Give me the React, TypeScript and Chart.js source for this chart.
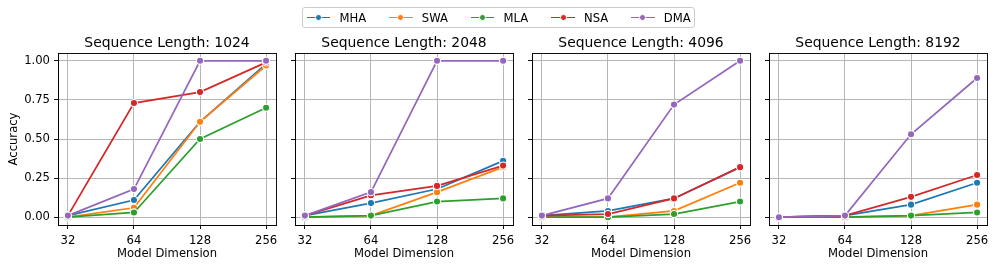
import React, { useEffect, useRef } from "react";
import { Chart, registerables } from "chart.js";

Chart.register(...registerables);

const dims = ["32", "64", "128", "256"];
const seqTitles = [
  "Sequence Length: 1024",
  "Sequence Length: 2048",
  "Sequence Length: 4096",
  "Sequence Length: 8192",
];
const methods = ["MHA", "SWA", "MLA", "NSA", "DMA"];
const colors = ["#1f77b4", "#ff7f0e", "#2ca02c", "#d62728", "#9467bd"];

// values per panel (seq 1024, 2048, 4096, 8192), each over dims
const mha = [
  [0.01, 0.11, 0.61, 0.98],
  [0.01, 0.09, 0.18, 0.36],
  [0.01, 0.04, 0.12, 0.32],
  [0.0, 0.01, 0.08, 0.22],
];
const swa = [
  [0.0, 0.06, 0.61, 0.97],
  [0.0, 0.01, 0.16, 0.32],
  [0.0, 0.0, 0.04, 0.22],
  [0.0, 0.0, 0.01, 0.08],
];
const mla = [
  [0.0, 0.03, 0.5, 0.7],
  [0.0, 0.01, 0.1, 0.12],
  [0.0, 0.0, 0.02, 0.1],
  [0.0, 0.0, 0.01, 0.03],
];
const nsa = [
  [0.01, 0.73, 0.8, 0.99],
  [0.01, 0.14, 0.2, 0.33],
  [0.01, 0.02, 0.12, 0.32],
  [0.0, 0.01, 0.13, 0.27],
];
const dma = [
  [0.01, 0.18, 1.0, 1.0],
  [0.01, 0.16, 1.0, 1.0],
  [0.01, 0.12, 0.72, 1.0],
  [0.0, 0.01, 0.53, 0.89],
];
const seriesByMethod = [mha, swa, mla, nsa, dma];
const yTicks = [0, 0.25, 0.5, 0.75, 1.0];

const W = 996;
const H = 269;
const FONT = "'DejaVu Sans', sans-serif";
const PANEL_LEFT = [58, 295, 532, 769];
const PANEL_WIDTH = 218;
const TOP = 53;
const BOTTOM = 225;

function Panel({ idx }: { idx: number }) {
  const ref = useRef<HTMLCanvasElement>(null);
  useEffect(() => {
    const canvas = ref.current!;
    const yAxisW = idx === 0 ? 58 : 8;
    const padLeft = PANEL_LEFT[idx] - yAxisW;
    const padRight = W - (PANEL_LEFT[idx] + PANEL_WIDTH);
    const framePlugin = {
      id: "frame" + idx,
      afterDraw(chart: any) {
        const { ctx, chartArea } = chart;
        ctx.save();
        ctx.strokeStyle = "#000";
        ctx.lineWidth = 0.93;
        ctx.strokeRect(
          Math.round(chartArea.left) + 0.5,
          Math.round(chartArea.top) + 0.5,
          Math.round(chartArea.right - chartArea.left),
          Math.round(chartArea.bottom - chartArea.top)
        );
        ctx.fillStyle = "#000";
        ctx.font = `13.9px ${FONT}`;
        ctx.textAlign = "center";
        ctx.textBaseline = "middle";
        ctx.fillText(seqTitles[idx], (chartArea.left + chartArea.right) / 2, 43.5);
        ctx.restore();
      },
    };
    const chart = new Chart(canvas, {
      type: "line",
      data: {
        datasets: methods.map((m, mi) => ({
          label: m,
          data: seriesByMethod[mi][idx].map((v, i) => ({ x: i, y: v })),
          borderColor: colors[mi],
          backgroundColor: colors[mi],
          pointBackgroundColor: colors[mi],
          pointBorderColor: "#ffffff",
          pointBorderWidth: 1.1,
          pointRadius: 3.6,
          borderWidth: 1.75,
          tension: 0,
          order: methods.length - mi,
        })),
      },
      options: {
        animation: false,
        responsive: false,
        devicePixelRatio: 1,
        parsing: false as any,
        layout: { padding: { left: padLeft, right: padRight, top: TOP, bottom: 0 } },
        plugins: {
          legend: { display: false },
          tooltip: { enabled: false },
          title: { display: false },
        },
        scales: {
          x: {
            type: "linear",
            min: -0.15,
            max: 3.15,
            afterBuildTicks: (s: any) => {
              s.ticks = dims.map((_, i) => ({ value: i }));
            },
            afterFit: (s: any) => {
              s.height = H - BOTTOM;
            },
            ticks: {
              callback: (v: any) => dims[v as number] ?? "",
              color: "#000",
              font: { family: FONT, size: 11.6 },
              padding: 5,
              maxRotation: 0,
              autoSkip: false,
            },
            grid: {
              color: "#b0b0b0",
              lineWidth: 0.93,
              tickLength: 4,
              tickColor: "#000",
              tickWidth: 0.93,
            },
            border: { display: true, color: "#000", width: 0.93 },
            title: {
              display: true,
              text: "Model Dimension",
              color: "#000",
              font: { family: FONT, size: 11.6 },
              padding: { top: 0, bottom: 8 },
            },
          },
          y: {
            type: "linear",
            min: -0.05,
            max: 1.05,
            afterBuildTicks: (s: any) => {
              s.ticks = yTicks.map((v) => ({ value: v }));
            },
            afterFit: (s: any) => {
              s.width = yAxisW;
            },
            ticks: {
              display: idx === 0,
              callback: (v: any) => Number(v).toFixed(2),
              color: "#000",
              font: { family: FONT, size: 11.6 },
              padding: 4,
            },
            grid: {
              color: "#b0b0b0",
              lineWidth: 0.93,
              tickLength: 4,
              tickColor: "#000",
              tickWidth: 0.93,
            },
            border: { display: true, color: "#000", width: 0.93 },
            title: {
              display: idx === 0,
              text: "Accuracy",
              color: "#000",
              font: { family: FONT, size: 11.6 },
              padding: { top: 7, bottom: 0 },
            },
          },
        },
      },
      plugins: [framePlugin],
    });
    return () => chart.destroy();
  }, [idx]);
  return (
    <canvas
      ref={ref}
      width={W}
      height={H}
      style={{ position: "absolute", left: 0, top: 0, width: W, height: H }}
    />
  );
}

function Legend() {
  return (
    <div
      style={{
        position: "absolute",
        left: 302,
        top: 7,
        width: 393,
        height: 21,
        boxSizing: "border-box",
        border: "1px solid #cccccc",
        borderRadius: 3,
        background: "rgba(255,255,255,0.8)",
        display: "flex",
        alignItems: "center",
        paddingLeft: 4,
        fontFamily: FONT,
        fontSize: 11.6,
        color: "#000",
        whiteSpace: "nowrap",
      }}
    >
      {methods.map((m, i) => (
        <div
          key={m}
          style={{ display: "flex", alignItems: "center", marginRight: i < methods.length - 1 ? 23.2 : 0 }}
        >
          <div style={{ position: "relative", width: 23.2, height: 10, marginRight: 9.3 }}>
            <div
              style={{
                position: "absolute",
                left: 0,
                right: 0,
                top: 4.1,
                height: 1.75,
                background: colors[i],
              }}
            />
            <div
              style={{
                position: "absolute",
                left: 11.6 - 3.5,
                top: 5 - 3.5,
                width: 5,
                height: 5,
                borderRadius: "50%",
                background: colors[i],
                border: "1px solid #fff",
              }}
            />
          </div>
          <span>{m}</span>
        </div>
      ))}
    </div>
  );
}

export default function App() {
  return (
    <div
      style={{
        position: "fixed",
        left: 0,
        top: 0,
        width: W,
        height: H,
        background: "#ffffff",
        overflow: "hidden",
      }}
    >
      {[0, 1, 2, 3].map((i) => (
        <Panel key={i} idx={i} />
      ))}
      <Legend />
    </div>
  );
}
